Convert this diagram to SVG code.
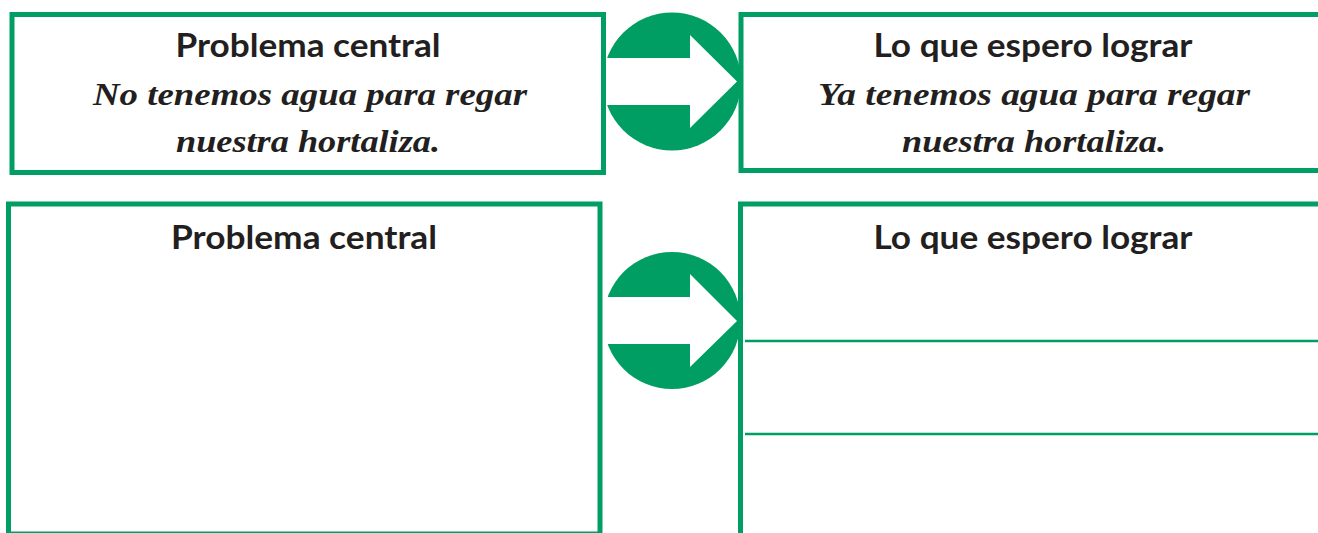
<svg xmlns="http://www.w3.org/2000/svg" width="1318" height="533" viewBox="0 0 1318 533">
<style>
.box{fill:none;stroke:#009e63;stroke-width:5}
.disc{fill:#009e63}
.arr{fill:#ffffff}
.rule{stroke:#009e63;stroke-width:2.5}
.title{font-family:"Lato","Open Sans","Liberation Sans",sans-serif;font-weight:bold;font-size:32px;fill:#231f20;text-anchor:middle}
.script{font-family:"Liberation Serif","DejaVu Serif",serif;font-style:italic;font-weight:bold;font-size:31px;fill:#231f20;text-anchor:middle}
</style>
<rect width="1318" height="533" fill="#ffffff"/>
<g id="connectors">
  <g id="arrow-top">
    <circle class="disc" cx="672" cy="81.5" r="69"/>
    <polygon class="arr" points="598,58 690,58 690,35 737,81.5 690,128 690,105 598,105"/>
  </g>
  <g id="arrow-bottom">
    <circle class="disc" cx="672" cy="320.5" r="68.5"/>
    <polygon class="arr" points="598,297 690,297 690,274 737,321 690,367 690,344 598,344"/>
  </g>
</g>
<g id="problem-example">
  <rect class="box" x="12" y="14.5" width="591.5" height="158"/>
  <text class="title" x="308" y="57" textLength="265" lengthAdjust="spacingAndGlyphs">Problema central</text>
  <text class="script" x="310" y="105" textLength="434" lengthAdjust="spacingAndGlyphs">No tenemos agua para regar</text>
  <text class="script" x="308" y="152" textLength="264" lengthAdjust="spacingAndGlyphs">nuestra hortaliza.</text>
</g>
<g id="goal-example">
  <rect class="box" x="741" y="14.5" width="600" height="156"/>
  <text class="title" x="1033" y="57" textLength="319" lengthAdjust="spacingAndGlyphs">Lo que espero lograr</text>
  <text class="script" x="1034" y="105" textLength="432" lengthAdjust="spacingAndGlyphs">Ya tenemos agua para regar</text>
  <text class="script" x="1034" y="152" textLength="264" lengthAdjust="spacingAndGlyphs">nuestra hortaliza.</text>
</g>
<g id="problem-blank">
  <rect class="box" x="8.5" y="204" width="591.5" height="330"/>
  <text class="title" x="304" y="249" textLength="266" lengthAdjust="spacingAndGlyphs">Problema central</text>
</g>
<g id="goal-blank">
  <rect class="box" x="740.5" y="204" width="600" height="345"/>
  <text class="title" x="1033" y="249" textLength="319" lengthAdjust="spacingAndGlyphs">Lo que espero lograr</text>
  <line class="rule" x1="745" y1="341" x2="1318" y2="341"/>
  <line class="rule" x1="745" y1="434" x2="1318" y2="434"/>
</g>
</svg>
